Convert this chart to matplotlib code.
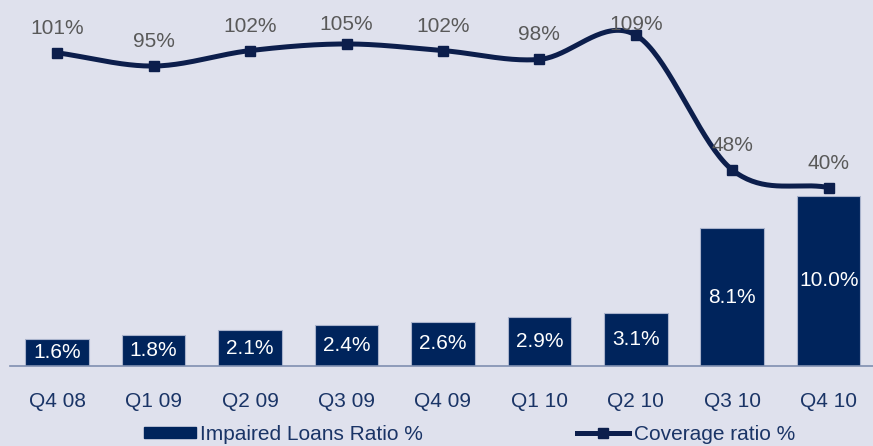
import numpy as np
import matplotlib
matplotlib.use("Agg")
import matplotlib.pyplot as plt
from matplotlib.lines import Line2D
from matplotlib.patches import Patch

categories = ["Q4 08", "Q1 09", "Q2 09", "Q3 09", "Q4 09", "Q1 10", "Q2 10", "Q3 10", "Q4 10"]
impaired_ratio = [1.6, 1.8, 2.1, 2.4, 2.6, 2.9, 3.1, 8.1, 10.0]
coverage_ratio = [101, 95, 102, 105, 102, 98, 109, 48, 40]

plt.rcParams['font.family'] = ['Liberation Sans', 'DejaVu Sans']

BG = "#dfe1ed"
BAR = "#00245c"
LINE = "#0c1e4c"
TXT = "#1a3466"
GRAY = "#595959"
FS = 15

W, H = 873, 446
fig = plt.figure(figsize=(W / 100, H / 100), dpi=100, facecolor=BG)
ax = fig.add_axes([10 / W, 1 - 366 / H, (W - 10) / W, 366 / H])
ax.set_facecolor(BG)
x = np.arange(len(categories))

ax.bar(x, impaired_ratio, width=0.66, color=BAR, edgecolor="#a9b3cc", linewidth=0.8, zorder=2)
ax.set_ylim(0, 21.5)
ax.set_xlim(-0.49, 8.46)
for xi, v in zip(x, impaired_ratio):
    ax.text(xi, v / 2, f"{v:.1f}%", ha="center", va="center", color="white", fontsize=FS, zorder=3)

for s in ["top", "right", "left"]:
    ax.spines[s].set_visible(False)
ax.spines["bottom"].set_color("#7f8fb0")
ax.spines["bottom"].set_linewidth(1.2)
ax.set_yticks([])
ax.set_xticks(x)
ax.set_xticklabels(categories, fontsize=FS, color=TXT)
ax.tick_params(axis="x", length=0, pad=19)

ax2 = ax.twinx()
ax2.set_ylim(-40.8, 124.9)
ax2.set_yticks([])
for s in ax2.spines.values():
    s.set_visible(False)

# Catmull-Rom smoothing through the data points
def catmull(xs, ys, n=40):
    px = np.concatenate([[2 * xs[0] - xs[1]], xs, [2 * xs[-1] - xs[-2]]])
    py = np.concatenate([[2 * ys[0] - ys[1]], ys, [2 * ys[-1] - ys[-2]]])
    ox, oy = [], []
    t = np.linspace(0, 1, n)
    for i in range(1, len(px) - 2):
        for P, out in ((px, ox), (py, oy)):
            p0, p1, p2, p3 = P[i - 1], P[i], P[i + 1], P[i + 2]
            out.extend(0.5 * ((2 * p1) + (-p0 + p2) * t + (2 * p0 - 5 * p1 + 4 * p2 - p3) * t ** 2
                              + (-p0 + 3 * p1 - 3 * p2 + p3) * t ** 3))
    return np.array(ox), np.array(oy)

cx, cy = catmull(x.astype(float), np.array(coverage_ratio, dtype=float))
ax2.plot(cx, cy, color=LINE, linewidth=3.6, zorder=4, solid_capstyle="round")
ax2.plot(x, coverage_ratio, linestyle="none", marker="s", markersize=7.5, color=LINE, zorder=5)

fig.canvas.draw()
for xi, v in zip(x, coverage_ratio):
    px, py = ax2.transData.transform((xi, v))
    ty = py + 19  # baseline above point (display px, origin bottom)
    ty = min(ty, H - 30)
    tx, tyd = ax2.transData.inverted().transform((px, ty))
    ax2.text(xi, tyd, f"{v}%", ha="center", va="baseline", color=GRAY, fontsize=FS, zorder=6)

handles = [Patch(facecolor=BAR, edgecolor=BAR),
           Line2D([0], [0], color=LINE, linewidth=3.6, marker="s", markersize=6.5)]
leg = fig.legend(handles, ["Impaired Loans Ratio %", "Coverage ratio %"], loc="upper left",
                 bbox_to_anchor=(144 / W, 1 - 425 / H), ncol=2, frameon=False, fontsize=FS,
                 handlelength=2.5, handleheight=0.45, columnspacing=7.4, handletextpad=0.2,
                 borderpad=0, borderaxespad=0)
for t in leg.get_texts():
    t.set_color(TXT)

fig.savefig("out.png", dpi=100, facecolor=BG)
